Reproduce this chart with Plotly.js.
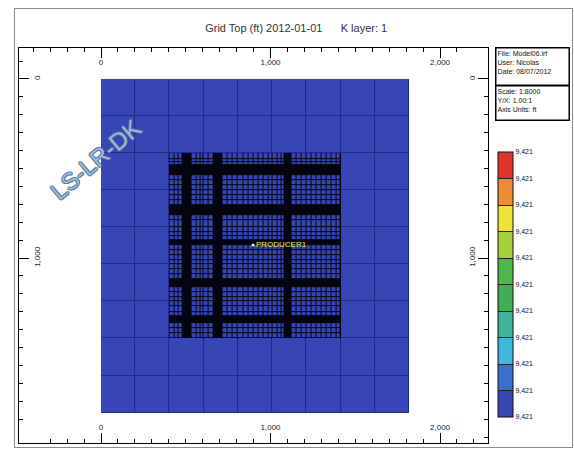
<!DOCTYPE html>
<html><head><meta charset="utf-8">
<script src="https://cdn.plot.ly/plotly-3.0.1.min.js"></script>
<style>
html,body{margin:0;padding:0;background:#fff;}
#wrap{position:relative;width:574px;height:449px;}
#chart{width:574px;height:449px;}
#frame{position:absolute;left:14px;top:8px;width:557px;height:438px;border:1px solid #8a8a8a;pointer-events:none;}
</style>
</head><body>
<div id="wrap"><div id="chart"></div><div id="frame"></div></div>
<script>
// ---- data (ft) ----
const coarseXEdges = [0, 202, 404, 606, 808, 1010, 1212, 1414, 1616, 1818];
const coarseYEdges = [0, 207, 414, 621, 828, 1035, 1242, 1449, 1656, 1863];
const refinedCols = [2, 3, 4, 5, 6];
const refinedRows = [2, 3, 4, 5, 6];
const gridTop = 9421.0;
const fineXEdges = [404, 436, 458, 481, 534, 562, 584, 606, 635, 664, 717, 747, 777, 808, 838, 868, 898, 928, 958, 988, 1010, 1040, 1062, 1083, 1124, 1152, 1182, 1212, 1242, 1272, 1302, 1332, 1362, 1390, 1414];
const fineYEdges = [414, 447, 462, 480, 536, 562, 590, 621, 646, 676, 704, 760, 790, 828, 856, 880, 902, 930, 958, 986, 1012, 1035, 1062, 1090, 1117, 1162, 1190, 1216, 1242, 1270, 1300, 1326, 1366, 1392, 1420, 1449];
const barXStarts = [481, 664, 1083];
const barYStarts = [480, 704, 902, 1117, 1326];
const wellNames = ['PRODUCER1'];
const wellX = [897];
const wellY = [927];
const bandColors = ['#3646b4', '#3a6fca', '#3fb8e0', '#40b49c', '#3fae55', '#4cb848', '#a6cf3c', '#eee23a', '#ef8a35', '#e23328'];
const cbTickVals = [9421.00, 9421.01, 9421.02, 9421.03, 9421.04, 9421.05, 9421.06, 9421.07, 9421.08, 9421.09, 9421.10];
const xTickVals = [0, 1000, 2000];
const yTickVals = [0, 1000];

// ---- build ----
const nCx = coarseXEdges.length - 1, nCy = coarseYEdges.length - 1;
const underZ = [], coarseZ = [];
for (let r = 0; r < nCy; r++) {
  const u = [], c = [];
  for (let k = 0; k < nCx; k++) {
    const inRef = refinedRows.includes(r) && refinedCols.includes(k);
    u.push(inRef ? 1 : 0);
    c.push(inRef ? null : gridTop);
  }
  underZ.push(u); coarseZ.push(c);
}
const fineZ = [];
for (let r = 0; r < fineYEdges.length - 1; r++) {
  const row = [];
  for (let k = 0; k < fineXEdges.length - 1; k++) {
    const bar = barYStarts.includes(fineYEdges[r]) || barXStarts.includes(fineXEdges[k]);
    row.push(bar ? null : gridTop);
  }
  fineZ.push(row);
}
const n = bandColors.length;
const colorscale = [];
bandColors.forEach((c, i) => { colorscale.push([i / n, c]); colorscale.push([(i + 1) / n, c]); });
const zmin = cbTickVals[0], zmax = cbTickVals[cbTickVals.length - 1];

const FONT = 'Liberation Sans, Arial, sans-serif';
const traces = [
  {type: 'heatmap', x: coarseXEdges, y: coarseYEdges, z: underZ, zmin: 0, zmax: 1,
   colorscale: [[0, '#202a88'], [1, '#050512']], showscale: false, hoverinfo: 'skip'},
  {type: 'heatmap', x: coarseXEdges, y: coarseYEdges, z: coarseZ, zmin: zmin, zmax: zmax,
   colorscale: colorscale, xgap: 1, ygap: 1, hoverinfo: 'skip', showscale: true,
   colorbar: {x: 1.0213, xanchor: 'left', xpad: 0, thickness: 15, len: 0.671, lenmode: 'fraction',
     y: 0.0658, yanchor: 'bottom', ypad: 0, outlinewidth: 1, outlinecolor: '#111', borderwidth: 0,
     ticks: 'inside', ticklen: 15, tickwidth: 1, tickcolor: '#222',
     tickmode: 'array', tickvals: cbTickVals, tickformat: ',.0f',
     tickfont: {size: 7, color: '#111', family: FONT}}},
  {type: 'heatmap', x: fineXEdges, y: fineYEdges, z: fineZ, zmin: zmin, zmax: zmax,
   colorscale: colorscale, xgap: 1, ygap: 1, hoverinfo: 'skip', showscale: false},
  {type: 'scatter', mode: 'markers+text', x: wellX, y: wellY, text: wellNames, xaxis: 'x2', yaxis: 'y2',
   textposition: 'middle right', textfont: {size: 8, color: '#f2f25a', family: FONT},
   marker: {size: 3, color: '#f2f2a0'}, hoverinfo: 'skip', cliponaxis: false}
];

const xRange = [-484, 2283], yRange = [2033, -173];
const axCommon = {showline: true, linecolor: '#000', linewidth: 1, ticks: 'inside', ticklen: 10,
  tickcolor: '#000', tickwidth: 1, ticklabelposition: 'inside', tickformat: ',d',
  tickfont: {size: 8, color: '#222', family: FONT}, showgrid: false, zeroline: false, fixedrange: true,
  minor: {ticks: 'inside', ticklen: 4, dtick: 100, tick0: 0, tickcolor: '#000', tickwidth: 1, showgrid: false}};

const layout = {
  width: 574, height: 449,
  margin: {l: 19, r: 86, t: 48, b: 6},
  paper_bgcolor: '#fff', plot_bgcolor: '#fff',
  showlegend: false,
  title: {text: 'Grid Top (ft) 2012-01-01&nbsp;&nbsp;&nbsp;&nbsp;&nbsp;&nbsp;K layer: 1', x: 0.516, xref: 'container', xanchor: 'center',
    y: 0.9376, yref: 'container', yanchor: 'middle', font: {size: 11, color: '#333', family: FONT}},
  xaxis: Object.assign({}, axCommon, {range: xRange, side: 'bottom', mirror: true, tickmode: 'array', tickvals: xTickVals}),
  xaxis2: Object.assign({}, axCommon, {range: xRange, side: 'top', overlaying: 'x', anchor: 'y', tickmode: 'array', tickvals: xTickVals}),
  yaxis: Object.assign({}, axCommon, {range: yRange, side: 'left', mirror: true, tickmode: 'array', tickvals: yTickVals, tickangle: -90}),
  yaxis2: Object.assign({}, axCommon, {range: yRange, side: 'right', overlaying: 'y', anchor: 'x', tickmode: 'array', tickvals: yTickVals, tickangle: -90}),
  annotations: [
    {text: 'LS-LR-DK', xref: 'paper', yref: 'paper', x: 0.05, y: 0.84, showarrow: false, textangle: -40,
     font: {size: 24, color: '#9cb9da', family: FONT,
       shadow: '-1px 0 #4d6d95, 1px 0 #4d6d95, 0 -1px #4d6d95, 0 1px #4d6d95'}},
    {text: 'File: Model06.irf<br>User: Nicolas<br>Date: 08/07/2012', xref: 'paper', yref: 'paper',
     x: 1.0149, y: 1.0025, xanchor: 'left', yanchor: 'top', showarrow: false, align: 'left',
     width: 70, height: 34, valign: 'top', bordercolor: '#000', borderwidth: 1.5, borderpad: 1,
     font: {size: 7, color: '#111', family: FONT}},
    {text: 'Scale: 1:8000<br>Y/X: 1.00:1<br>Axis Units: ft', xref: 'paper', yref: 'paper',
     x: 1.0149, y: 0.906, xanchor: 'left', yanchor: 'top', showarrow: false, align: 'left',
     width: 70, height: 31, valign: 'top', bordercolor: '#000', borderwidth: 1.5, borderpad: 1,
     font: {size: 7, color: '#111', family: FONT}}
  ]
};
Plotly.newPlot('chart', traces, layout, {staticPlot: true, displayModeBar: false});
</script>
</body></html>
